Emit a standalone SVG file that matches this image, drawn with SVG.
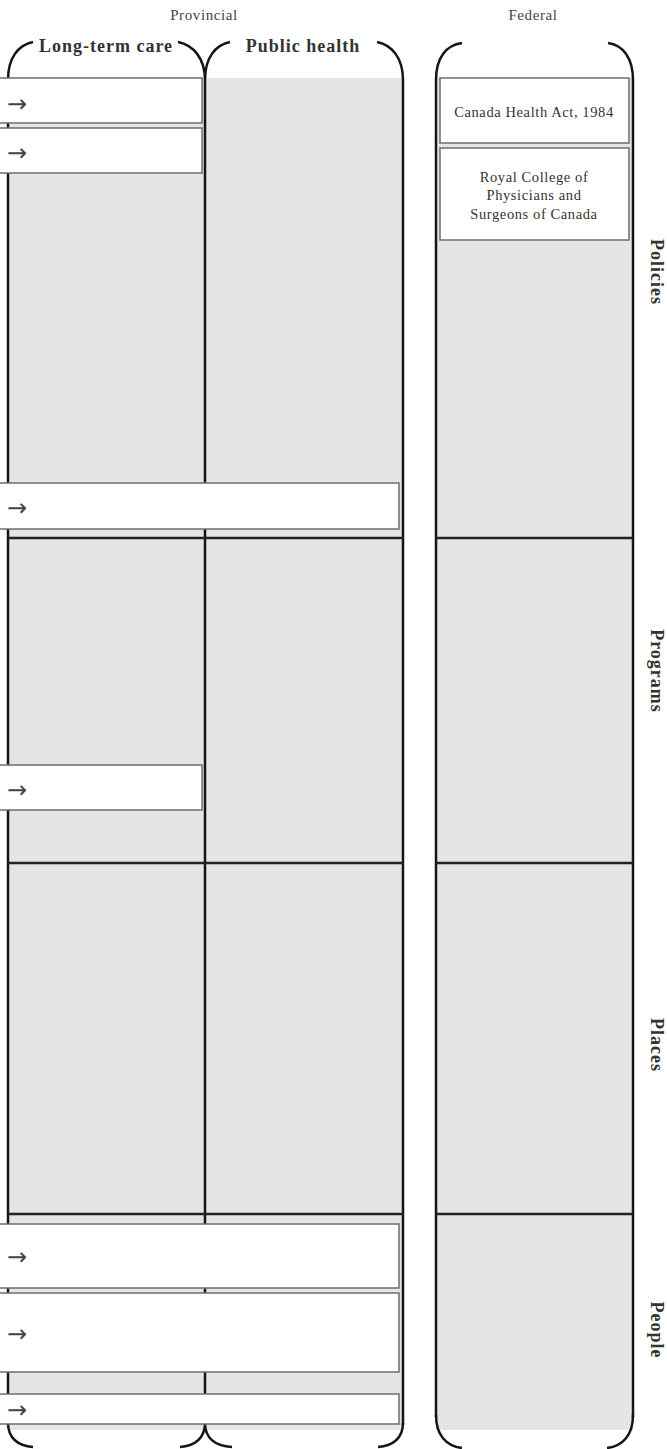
<svg xmlns="http://www.w3.org/2000/svg" width="667" height="1449" viewBox="0 0 667 1449">
<style>
.bg{fill:#e4e5e7;stroke:none}
.ln{fill:none;stroke:#151515;stroke-width:2.5}
.rl{fill:none;stroke:#222;stroke-width:2.5}
.box{fill:#fff;stroke:#6e6e6e;stroke-width:1.5}
.top{font-family:"Liberation Serif",serif;font-size:15px;fill:#444;text-anchor:middle;letter-spacing:0.6px}
.hd{font-family:"Liberation Serif",serif;font-size:18px;font-weight:bold;fill:#333;text-anchor:middle;letter-spacing:1px}
.bt{font-family:"Liberation Serif",serif;font-size:14.5px;fill:#333;text-anchor:middle;letter-spacing:0.6px}
.ar{font-family:"DejaVu Sans",sans-serif;font-size:24px;fill:#444}
</style>
<rect width="667" height="1449" fill="#fff"/>
<g id="frame">
<text class="top" x="204" y="20">Provincial</text>
<text class="top" x="533" y="20">Federal</text>
<rect class="bg" x="8" y="78" width="395" height="1352"/>
<rect class="bg" x="436" y="78" width="197" height="1352"/>
<path class="ln" d="M8,80 V1425 M205,80 V1425 M403,80 V1425 M436,80 V1417 M633,80 V1417"/>
<path class="ln" d="M8,80 C8,58 18,45 33,42 M178,42 C193,45 205,58 205,80 M205,80 C205,58 215,45 230,42 M377,42 C392,45 403,58 403,80 M436,80 C436,58 446,45 462,43 M608,43 C623,45 633,58 633,80"/>
<path class="ln" d="M8,1423 C8,1438 18,1446 33,1447 M180,1447 C195,1446 205,1438 205,1423 M205,1423 C205,1438 215,1446 232,1447 M378,1447 C393,1446 403,1438 403,1423 M436,1415 C436,1435 446,1446 462,1448 M607,1448 C623,1446 633,1435 633,1415"/>
<path class="rl" d="M7,538 H404 M7,863 H404 M7,1214 H404 M436,538 H633 M436,863 H633 M436,1214 H633"/>
<text class="hd" x="106" y="52">Long-term care</text>
<text class="hd" x="303" y="52">Public health</text>
<text class="hd" transform="translate(651,272) rotate(90)">Policies</text>
<text class="hd" transform="translate(651,671) rotate(90)">Programs</text>
<text class="hd" transform="translate(651,1045) rotate(90)">Places</text>
<text class="hd" transform="translate(651,1330) rotate(90)">People</text>
</g>
<g id="connectors"></g>
<g id="ltc-policy-1"><rect class="box" x="-2" y="78" width="204" height="45"/><text class="ar" x="7" y="112">→</text></g>
<g id="ltc-policy-2"><rect class="box" x="-2" y="128" width="204" height="45"/><text class="ar" x="7" y="161">→</text></g>
<g id="policy-wide"><rect class="box" x="-2" y="483" width="401" height="46"/><text class="ar" x="7" y="516">→</text></g>
<g id="ltc-program"><rect class="box" x="-2" y="765" width="204" height="45"/><text class="ar" x="7" y="798">→</text></g>
<g id="people-1"><rect class="box" x="-2" y="1224" width="401" height="64"/><text class="ar" x="7" y="1265">→</text></g>
<g id="people-2"><rect class="box" x="-2" y="1293" width="401" height="79"/><text class="ar" x="7" y="1342">→</text></g>
<g id="people-3"><rect class="box" x="-2" y="1394" width="401" height="30"/><text class="ar" x="7" y="1418">→</text></g>
<g id="canada-health-act"><rect class="box" x="440" y="78" width="189" height="65"/><text class="bt" x="534" y="117">Canada Health Act, 1984</text></g>
<g id="royal-college"><rect class="box" x="440" y="148" width="189" height="92"/><text class="bt" x="534" y="182">Royal College of</text><text class="bt" x="534" y="200">Physicians and</text><text class="bt" x="534" y="219">Surgeons of Canada</text></g>
</svg>
